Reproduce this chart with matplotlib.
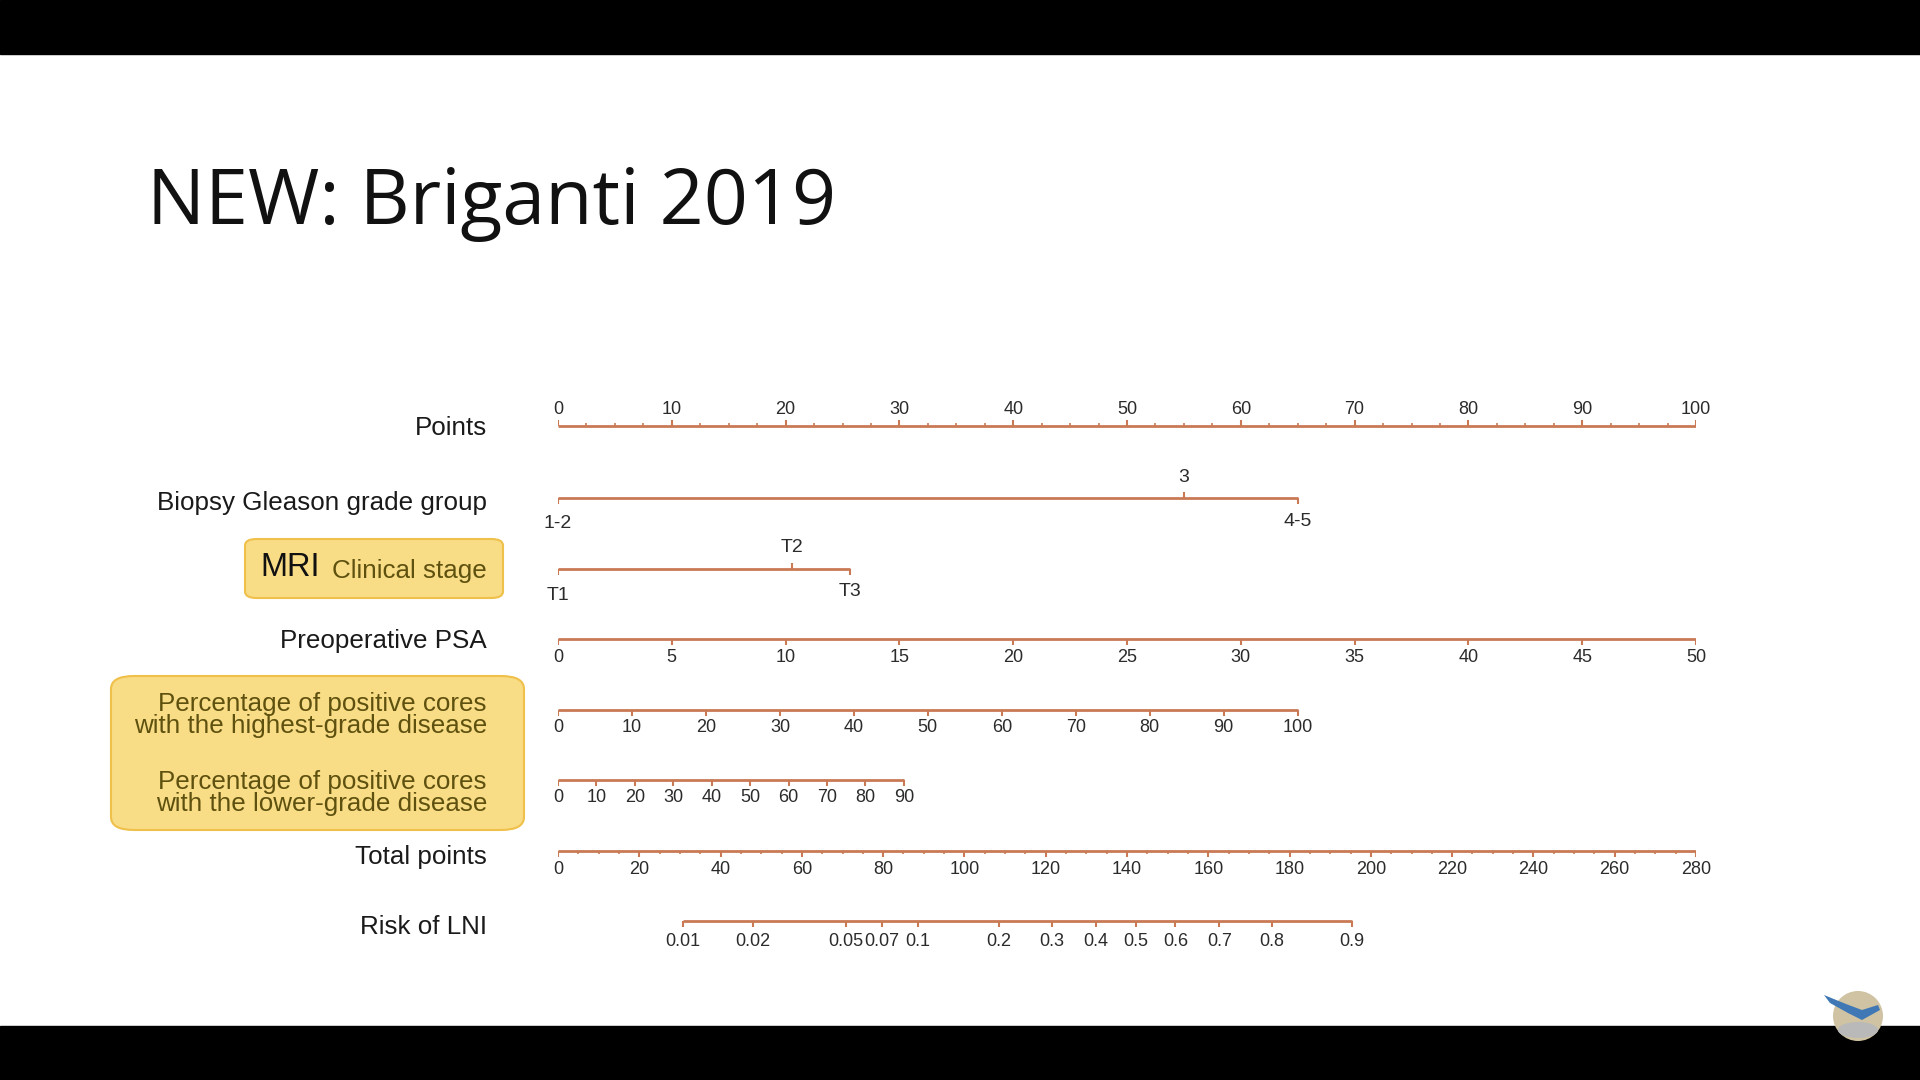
import matplotlib.pyplot as plt
from matplotlib.patches import FancyBboxPatch, Rectangle, Ellipse, Polygon

plt.rcParams["font.family"] = ["Liberation Sans", "DejaVu Sans"]

# nomogram scales: label values and the points they sit at
points_ticks = [0, 10, 20, 30, 40, 50, 60, 70, 80, 90, 100]

gleason_labels = ["1-2", "3", "4-5"]
gleason_points = [0, 55, 65]

mri_labels = ["T1", "T2", "T3"]
mri_points = [0, 20.6, 25.7]

psa_values = [0, 5, 10, 15, 20, 25, 30, 35, 40, 45, 50]
psa_points = [0, 10, 20, 30, 40, 50, 60, 70, 80, 90, 100]

high_values = [0, 10, 20, 30, 40, 50, 60, 70, 80, 90, 100]
high_points = [0, 6.5, 13, 19.5, 26, 32.5, 39, 45.5, 52, 58.5, 65]

low_values = [0, 10, 20, 30, 40, 50, 60, 70, 80, 90]
low_points = [0, 3.38, 6.76, 10.13, 13.51, 16.89, 20.27, 23.64, 27.02, 30.4]

total_ticks = [0, 20, 40, 60, 80, 100, 120, 140, 160, 180, 200, 220, 240, 260, 280]

risk_labels = ["0.01", "0.02", "0.05", "0.07", "0.1", "0.2", "0.3", "0.4",
               "0.5", "0.6", "0.7", "0.8", "0.9"]
risk_total = [30.7, 47.9, 70.8, 79.6, 88.6, 108.5, 121.5, 132.3,
              142.2, 151.9, 162.7, 175.7, 195.3]

LINE = "#c97a55"
TXT = "#2b2b2b"
LAB = "#1a1a1a"
BOX_FILL = "#f9dc86"
BOX_EDGE = "#efc04a"
BOX_TXT = "#5e510f"

fig = plt.figure(figsize=(19.2, 10.8), dpi=100)
fig.patch.set_facecolor("white")

# black letterbox bars
fig.patches.append(Rectangle((0, 1 - 54 / 1080), 1, 54 / 1080, transform=fig.transFigure,
                             color="black", zorder=0))
fig.patches.append(Rectangle((0, 0), 1, 54 / 1080, transform=fig.transFigure,
                             color="black", zorder=0))

fig.text(147 / 1920, 1 - 204 / 1080, "NEW: Briganti 2019", fontsize=55.6,
         family=["Open Sans", "DejaVu Sans"], color="#111111", va="center", ha="left")

x0, x1 = 558 / 1920, 1696 / 1920
ax = fig.add_axes([x0, 0, x1 - x0, 1])
ax.set_xlim(0, 100)
ax.set_ylim(1080, 0)
ax.axis("off")

ax2 = fig.add_axes([x0, 0, x1 - x0, 1])
ax2.set_xlim(0, 280)
ax2.set_ylim(1080, 0)
ax2.axis("off")
ax2.patch.set_alpha(0)

lw = 2.0
tk = 6
tick_fs = 13
lab_fs = 18.7


def scale_line(a, xs, y, labels, up=False, fs=tick_fs, lab_off=18):
    a.hlines(y, xs[0], xs[-1], color=LINE, lw=lw)
    sgn = -1 if up else 1
    a.vlines(xs, y, y + sgn * tk, color=LINE, lw=1.5)
    for x, t in zip(xs, labels):
        a.text(x, y + sgn * lab_off, str(t), ha="center", va="center",
               fontsize=fs, color=TXT, clip_on=False)


def row_label(y, text, **kw):
    fig.text(487 / 1920, 1 - y / 1080, text, ha="right", va="center",
             fontsize=lab_fs, color=LAB, **kw)


# Points
y = 426
ax.hlines(y, 0, 100, color=LINE, lw=lw)
minor = [i * 2.5 for i in range(41)]
ax.vlines(minor, y, y - 3, color=LINE, lw=1.2)
ax.vlines(points_ticks, y, y - tk, color=LINE, lw=1.5)
for v in points_ticks:
    ax.text(v, 409, str(v), ha="center", va="center", fontsize=tick_fs, color=TXT)
row_label(428, "Points")

# Gleason grade group
y = 498
ax.hlines(y, gleason_points[0], gleason_points[-1], color=LINE, lw=lw)
ax.vlines([gleason_points[0], gleason_points[2]], y, y + tk, color=LINE, lw=1.5)
ax.vlines([gleason_points[1]], y, y - tk, color=LINE, lw=1.5)
ax.text(gleason_points[0], 524, gleason_labels[0], ha="center", va="center", fontsize=14, color=TXT)
ax.text(gleason_points[1], 477, gleason_labels[1], ha="center", va="center", fontsize=14, color=TXT)
ax.text(gleason_points[2], 521, gleason_labels[2], ha="center", va="center", fontsize=14, color=TXT)
row_label(503, "Biopsy Gleason grade group")

# MRI clinical stage
y = 569
ax.hlines(y, mri_points[0], mri_points[-1], color=LINE, lw=lw)
ax.vlines([mri_points[0], mri_points[2]], y, y + tk, color=LINE, lw=1.5)
ax.vlines([mri_points[1]], y, y - tk, color=LINE, lw=1.5)
ax.text(mri_points[0], 596, mri_labels[0], ha="center", va="center", fontsize=14, color=TXT)
ax.text(mri_points[1], 547, mri_labels[1], ha="center", va="center", fontsize=14, color=TXT)
ax.text(mri_points[2], 591, mri_labels[2], ha="center", va="center", fontsize=14, color=TXT)

fig.patches.append(FancyBboxPatch((245 / 1920, 1 - 598 / 1080), (503 - 245) / 1920, 59 / 1080,
                                  boxstyle="round,pad=0,rounding_size=0.006",
                                  transform=fig.transFigure, facecolor=BOX_FILL,
                                  edgecolor=BOX_EDGE, lw=1.5, zorder=1))
fig.text(260 / 1920, 1 - 568 / 1080, "MRI", ha="left", va="center", fontsize=23.5,
         color="#111111", zorder=2)
fig.text(487 / 1920, 1 - 571 / 1080, "Clinical stage", ha="right", va="center",
         fontsize=lab_fs, color=BOX_TXT, zorder=2)

# Preoperative PSA
scale_line(ax, psa_points, 639, psa_values)
row_label(641, "Preoperative PSA")

# big highlighted box
fig.patches.append(FancyBboxPatch((111 / 1920, 1 - 830 / 1080), (524 - 111) / 1920, 154 / 1080,
                                  boxstyle="round,pad=0,rounding_size=0.012",
                                  transform=fig.transFigure, facecolor=BOX_FILL,
                                  edgecolor=BOX_EDGE, lw=1.5, zorder=1))

# highest-grade cores
scale_line(ax, high_points, 710, high_values)
fig.text(487 / 1920, 1 - 715 / 1080,
         "Percentage of positive cores\nwith the highest-grade disease",
         ha="right", va="center", fontsize=lab_fs, color=BOX_TXT, linespacing=0.94, zorder=2)

# lower-grade cores
scale_line(ax, low_points, 780, low_values)
fig.text(487 / 1920, 1 - 793 / 1080,
         "Percentage of positive cores\nwith the lower-grade disease",
         ha="right", va="center", fontsize=lab_fs, color=BOX_TXT, linespacing=0.94, zorder=2)

# Total points
y = 851
ax2.hlines(y, 0, 280, color=LINE, lw=lw)
ax2.vlines(list(range(0, 281, 5)), y, y + 3, color=LINE, lw=1.2)
ax2.vlines(total_ticks, y, y + tk, color=LINE, lw=1.5)
for v in total_ticks:
    ax2.text(v, 870, str(v), ha="center", va="center", fontsize=tick_fs, color=TXT)
row_label(857, "Total points")

# Risk of LNI
scale_line(ax2, risk_total, 921, risk_labels, lab_off=20)
row_label(927, "Risk of LNI")

# small logo, bottom right
fig.patches.append(Ellipse((1858 / 1920, 1 - 1016 / 1080), 50 / 1920, 50 / 1080,
                           transform=fig.transFigure, facecolor="#cfc3a3",
                           edgecolor="none", zorder=3))
fig.patches.append(Ellipse((1858 / 1920, 1 - 1030 / 1080), 40 / 1920, 16 / 1080,
                           transform=fig.transFigure, facecolor="#b9b9b9",
                           edgecolor="none", zorder=4))
bird = [(1824, 995), (1846, 1004), (1862, 1010), (1878, 1005), (1880, 1010),
        (1862, 1020), (1848, 1013), (1830, 1003)]
fig.patches.append(Polygon([(x / 1920, 1 - y / 1080) for x, y in bird], closed=True,
                           transform=fig.transFigure, facecolor="#3f78b4",
                           edgecolor="none", zorder=5))

plt.savefig("out.png", dpi=100, facecolor=fig.get_facecolor())
